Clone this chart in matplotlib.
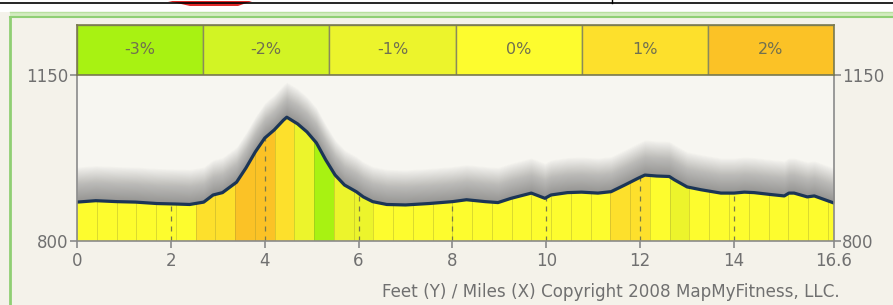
import numpy as np
import matplotlib
matplotlib.use("Agg")
import matplotlib.pyplot as plt
from matplotlib.patches import Rectangle, Polygon

# elevation profile (miles, feet)
dist = [0.0, 0.4, 0.85, 1.25, 1.7, 2.1, 2.4, 2.7, 2.9, 3.1, 3.4, 3.6, 3.8, 4.0,
        4.2, 4.4, 4.47, 4.7, 4.9, 5.1, 5.3, 5.5, 5.7, 5.95, 6.1, 6.3, 6.6, 7.0,
        7.5, 8.0, 8.3, 8.7, 8.97, 9.25, 9.68, 9.97, 10.1, 10.45, 10.75, 11.1,
        11.38, 11.67, 11.95, 12.1, 12.35, 12.62, 12.73, 13.0, 13.3, 13.72, 14.0,
        14.22, 14.43, 14.78, 15.07, 15.17, 15.28, 15.56, 15.71, 16.13]
elev = [882, 885, 883, 882, 879, 878, 877, 882, 897, 902, 924, 954, 988, 1017,
        1034, 1055, 1061, 1047, 1030, 1007, 971, 939, 918, 904, 893, 883, 877, 876,
        879, 883, 887, 883, 881, 890, 901, 890, 897, 902, 903, 901,
        904, 918, 932, 939, 937, 936, 929, 914, 908, 901, 901,
        903, 902, 898, 895, 901, 901, 893, 895, 880]

# grade of each 0.421 mile segment
seg_len = 0.421
seg_grade = ['0%'] * 6 + ['1%', '1%', '2%', '2%', '1%', '-1%', '-3%', '-1%', '-1%'] \
    + ['0%'] * 12 + ['1%', '1%', '0%', '-1%'] + ['0%'] * 8

legend_labels = ['-3%', '-2%', '-1%', '0%', '1%', '2%']
legend_colors = ['#a8f212', '#d2f424', '#ecf42c', '#fdfc2e', '#fde02c', '#fbc226']
grade_color = dict(zip(legend_labels, legend_colors))

xticks = [0, 2, 4, 6, 8, 10, 12, 14, 16.13]
xticklabels = ['0', '2', '4', '6', '8', '10', '12', '14', '16.6']
ymin, ymax = 800, 1150
xmax = 16.13

W, H = 893, 305
fig = plt.figure(figsize=(W / 100, H / 100), dpi=100)
fig.patch.set_facecolor('#f4f2ea')

# window frame bits
fig.patches.append(Rectangle((0, (H - 12) / H), 1, 12 / H, transform=fig.transFigure,
                             facecolor='white', edgecolor='none'))
fig.patches.append(Rectangle((0.011, (H - 17) / H), 1, 5 / H, transform=fig.transFigure,
                             facecolor='#d3ecc0', edgecolor='none'))
fig.add_artist(plt.Line2D([0.011, 1], [(H - 17) / H] * 2, color='#8fcf74', lw=1.5))
fig.add_artist(plt.Line2D([0.011, 1], [(H - 12) / H] * 2, color='#b8e0a0', lw=1))
fig.add_artist(plt.Line2D([9.5 / W] * 2, [0, (H - 17) / H], color='#8fcf74', lw=2))
fig.add_artist(plt.Line2D([0, 1], [(H - 2.5) / H] * 2, color='black', lw=1.2))
fig.add_artist(plt.Line2D([612 / W] * 2, [(H - 2.5) / H, 1], color='black', lw=1))
fig.patches.append(Polygon([(168 / W, (H - 1) / H), (252 / W, (H - 1) / H),
                            (238 / W, (H - 6) / H), (190 / W, (H - 6) / H)],
                           closed=True, transform=fig.transFigure,
                           facecolor='#e02828', edgecolor='none'))

left, right = 77 / W, 834 / W
ax = fig.add_axes([left, (H - 241) / H, right - left, (241 - 75) / H])
ax.set_facecolor('#f7f6f1')
ax.set_xlim(0, xmax)
ax.set_ylim(ymin, ymax)

d = np.array(dist)
e = np.array(elev)

# grey glow above the profile
for k in range(1, 40):
    ax.fill_between(d, e, e + 1.9 * k, color='#555555', alpha=0.019, lw=0)

# profile shape used as clip
prof = Polygon(np.column_stack([np.r_[d, d[-1], d[0]], np.r_[e, ymin, ymin]]),
               closed=True, transform=ax.transData, facecolor='none', edgecolor='none')
ax.add_patch(prof)

for i, g in enumerate(seg_grade):
    x0 = i * seg_len
    band = ax.axvspan(x0, x0 + seg_len, color=grade_color[g], lw=0)
    band.set_clip_path(prof)
    edge = ax.axvline(x0, color='#8a8a30', lw=0.6, alpha=0.35)
    edge.set_clip_path(prof)

for t in xticks[1:-1]:
    dl = ax.axvline(t, color='#7a7a4a', lw=0.9, ls=(0, (4, 4)))
    dl.set_clip_path(prof)

ax.plot(d, e, color='#1b3556', lw=2.3, solid_capstyle='round')

for s in ['left', 'right', 'bottom']:
    ax.spines[s].set_color('#8a8a8a')
    ax.spines[s].set_linewidth(1.2)
ax.spines['top'].set_visible(False)

tick_font = dict(family='DejaVu Sans', size=12)
ax.set_xticks(xticks)
ax.set_xticklabels(xticklabels, **tick_font)
ax.set_yticks([ymin, ymax])
ax.set_yticklabels(['800', '1150'], **tick_font)
ax.tick_params(axis='both', colors='#8a8a8a', labelcolor='#707070', length=5, width=1.2, pad=1)
ax.tick_params(axis='x', pad=3)
ax.tick_params(axis='y', labelright=True, right=True)

# grade legend bar
lax = fig.add_axes([left, (H - 75) / H, right - left, 50 / H])
lax.set_xlim(0, len(legend_labels))
lax.set_ylim(0, 1)
for i, (lab, col) in enumerate(zip(legend_labels, legend_colors)):
    lax.add_patch(Rectangle((i, 0), 1, 1, facecolor=col, edgecolor='#8a8a5a', lw=1))
    lax.text(i + 0.5, 0.5, lab, ha='center', va='center', color='#707050', fontsize=11.5)
lax.set_xticks([])
lax.set_yticks([])
for s in lax.spines.values():
    s.set_color('#7a7a50')
    s.set_linewidth(1.2)

fig.text(840 / W, (H - 292) / H, 'Feet (Y) / Miles (X) Copyright 2008 MapMyFitness, LLC.',
         ha='right', va='center', color='#707070', fontsize=12.1, family='DejaVu Sans')

fig.savefig('out.png', dpi=100, facecolor=fig.get_facecolor())
